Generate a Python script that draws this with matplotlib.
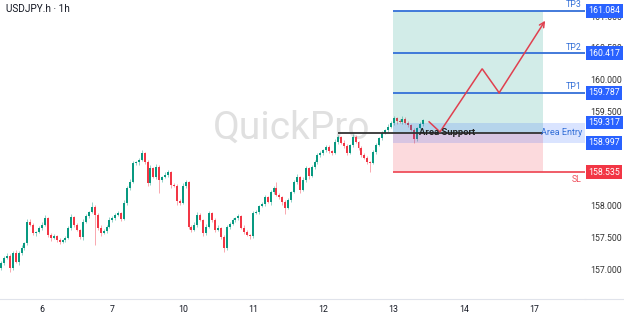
import matplotlib.pyplot as plt
import matplotlib.transforms as mtransforms
from matplotlib.patches import Rectangle
from matplotlib.lines import Line2D

plt.rcParams['font.family'] = ['Roboto', 'DejaVu Sans']

# hourly closes, one per bar (bar 0 = 5th, 10:00)
first_open = 157.02
closes = [
    157.10, 157.18, 157.21, 157.02, 157.26, 157.11, 157.26, 157.33, 157.41, 157.75,
    157.70, 157.57, 157.59, 157.65, 157.70, 157.81, 157.54, 157.49, 157.52, 157.46,
    157.43, 157.46, 157.49, 157.65, 157.82, 157.70, 157.62, 157.51, 157.75, 157.84,
    157.90, 157.98, 157.86, 157.65, 157.57, 157.60, 157.67, 157.78, 157.81, 157.86,
    157.89, 157.79, 158.05, 158.28, 158.38, 158.68, 158.69, 158.73, 158.84, 158.69,
    158.36, 158.60, 158.46, 158.62, 158.41, 158.46, 158.49, 158.54, 158.33, 158.32,
    158.08, 158.05, 158.32, 158.38, 157.67, 157.62, 157.70, 157.86, 157.78, 157.57,
    157.67, 157.89, 157.78, 157.62, 157.65, 157.51, 157.33, 157.67, 157.71, 157.78,
    157.81, 157.84, 157.65, 157.59, 157.54, 157.52, 157.89, 157.90, 158.00, 158.03,
    158.14, 158.06, 158.22, 158.28, 158.17, 158.14, 158.06, 157.97, 158.09, 158.22,
    158.38, 158.46, 158.25, 158.41, 158.60, 158.47, 158.62, 158.69, 158.81, 158.84,
    158.88, 158.93, 158.87, 158.84, 159.01, 159.09, 159.00, 158.95, 158.84, 158.96,
    159.09, 159.01, 158.92, 158.81, 158.76, 158.69, 158.68, 158.85, 158.96, 159.07,
    159.15, 159.20, 159.25, 159.31, 159.39, 159.34, 159.33, 159.38, 159.31, 159.28,
    159.20, 159.06, 159.23, 159.30, 159.36,
]
up_wick = [
    0.03, 0.02, 0.04, 0.03, 0.02, 0.04, 0.03, 0.05, 0.02, 0.05,
    0.04, 0.03, 0.02, 0.03, 0.05, 0.04, 0.02, 0.03, 0.04, 0.02,
    0.03, 0.02, 0.04, 0.03, 0.05, 0.02, 0.03, 0.02, 0.04, 0.03,
    0.02, 0.08, 0.03, 0.02, 0.04, 0.03, 0.02, 0.04, 0.03, 0.02,
    0.03, 0.02, 0.04, 0.03, 0.05, 0.03, 0.02, 0.03, 0.04, 0.02,
    0.03, 0.04, 0.02, 0.05, 0.03, 0.02, 0.04, 0.03, 0.02, 0.03,
    0.02, 0.03, 0.04, 0.03, 0.02, 0.03, 0.04, 0.05, 0.03, 0.02,
    0.04, 0.03, 0.02, 0.03, 0.04, 0.02, 0.03, 0.02, 0.04, 0.03,
    0.02, 0.03, 0.02, 0.04, 0.03, 0.02, 0.03, 0.04, 0.02, 0.03,
    0.04, 0.02, 0.03, 0.04, 0.10, 0.03, 0.02, 0.03, 0.04, 0.02,
    0.03, 0.04, 0.02, 0.05, 0.03, 0.02, 0.03, 0.04, 0.02, 0.03,
    0.02, 0.04, 0.03, 0.02, 0.05, 0.03, 0.02, 0.04, 0.03, 0.02,
    0.04, 0.03, 0.02, 0.03, 0.02, 0.03, 0.02, 0.03, 0.04, 0.02,
    0.03, 0.02, 0.04, 0.03, 0.04, 0.02, 0.03, 0.04, 0.02, 0.03,
    0.02, 0.03, 0.02, 0.03, 0.02,
]
dn_wick = [
    0.03, 0.04, 0.02, 0.06, 0.03, 0.02, 0.04, 0.03, 0.02, 0.03,
    0.02, 0.03, 0.04, 0.02, 0.03, 0.02, 0.03, 0.04, 0.02, 0.03,
    0.04, 0.02, 0.03, 0.02, 0.03, 0.04, 0.02, 0.03, 0.05, 0.02,
    0.03, 0.02, 0.48, 0.03, 0.04, 0.02, 0.03, 0.02, 0.04, 0.03,
    0.02, 0.03, 0.02, 0.04, 0.03, 0.02, 0.03, 0.04, 0.02, 0.03,
    0.04, 0.03, 0.02, 0.04, 0.20, 0.03, 0.02, 0.03, 0.04, 0.02,
    0.06, 0.03, 0.02, 0.03, 0.03, 0.04, 0.02, 0.03, 0.02, 0.04,
    0.03, 0.02, 0.03, 0.04, 0.02, 0.03, 0.06, 0.02, 0.03, 0.02,
    0.03, 0.04, 0.02, 0.03, 0.02, 0.04, 0.03, 0.02, 0.03, 0.02,
    0.03, 0.02, 0.04, 0.03, 0.02, 0.03, 0.04, 0.10, 0.02, 0.03,
    0.02, 0.03, 0.05, 0.02, 0.03, 0.04, 0.02, 0.03, 0.02, 0.04,
    0.03, 0.02, 0.04, 0.03, 0.02, 0.03, 0.02, 0.04, 0.03, 0.02,
    0.03, 0.02, 0.04, 0.03, 0.02, 0.03, 0.14, 0.02, 0.03, 0.02,
    0.03, 0.02, 0.03, 0.02, 0.03, 0.04, 0.02, 0.03, 0.02, 0.03,
    0.02, 0.06, 0.03, 0.02, 0.03,
]

day_bars = [14, 38, 62, 86, 110, 134, 158, 182]
day_labels = ['6', '7', '10', '11', '12', '13', '14', '17']

# trade setup
tp_levels = [161.084, 160.417, 159.787]
tp_names = ['TP3', 'TP2', 'TP1']
entry_top = 159.317
entry_bottom = 158.997
support = 159.16
stop_loss = 158.535
setup_start, setup_end = 133.8, 185.0
support_start = 115.0

# projected path (bar, price)
path_x = [146.1, 149.8, 164.2, 170.0, 185.7]
path_y = [159.33, 159.17, 160.17, 159.79, 160.93]

GREEN = '#089981'
RED = '#f23645'
BLUE = '#2962ff'

opens = [first_open] + closes[:-1]

fig = plt.figure(figsize=(6.24, 3.16), dpi=100)
ax = fig.add_axes([0, 17 / 316, 585 / 624, 299 / 316])
xmax = 199.3
ax.set_xlim(-0.35, xmax)
ax.set_ylim(156.527, 161.258)

# watermark
ax.text(0.499, 0.572, 'QuickPro', transform=ax.transAxes, fontsize=28,
        color='#e0e0e0', ha='center', va='center', zorder=0)

# candles
for i, (o, c) in enumerate(zip(opens, closes)):
    col = GREEN if c >= o else RED
    hi = max(o, c) + up_wick[i]
    lo = min(o, c) - dn_wick[i]
    ax.vlines(i, lo, hi, color=col, lw=0.6, alpha=0.5, zorder=2)
    h = max(abs(c - o), 0.008)
    ax.bar(i, h, bottom=min(o, c), width=0.68, color=col, lw=0, zorder=3)

# position boxes
ax.add_patch(Rectangle((setup_start, support), setup_end - setup_start,
                       tp_levels[0] - support, fc=GREEN, alpha=0.18, lw=0, zorder=4))
ax.add_patch(Rectangle((setup_start, stop_loss), setup_end - setup_start,
                       support - stop_loss, fc=RED, alpha=0.18, lw=0, zorder=4))
ax.add_patch(Rectangle((setup_start, entry_bottom), xmax - setup_start,
                       entry_top - entry_bottom, fc=BLUE, alpha=0.17, lw=0, zorder=4))

for lvl, name in zip(tp_levels, tp_names):
    ax.hlines(lvl, setup_start, xmax, color='#3470d8', lw=1.3, zorder=5)
    ax.text(198.2, lvl + 0.025, name, color='#3470d8', fontsize=6.3,
            ha='right', va='bottom', zorder=6)
ax.hlines(stop_loss, setup_start, xmax, color='#ef4f5c', lw=1.3, zorder=5)
ax.text(198.2, stop_loss - 0.05, 'SL', color='#ef4f5c', fontsize=6.3,
        ha='right', va='top', zorder=6)

ax.hlines(support, support_start, setup_end, color='#333333', lw=1.3, zorder=5)
ax.text(142.7, support, 'Area Support', fontsize=6.8, fontweight='bold',
        color='#222222', ha='left', va='center', zorder=7)
ax.text(198.3, support, 'Area Entry', fontsize=6.5, color='#3470d8',
        ha='right', va='center', zorder=6)

# projected move
ax.plot(path_x[:-1], path_y[:-1], color='#e0404f', lw=1.1, zorder=6,
        solid_joinstyle='miter')
ax.annotate('', xy=(path_x[-1], path_y[-1]), xytext=(path_x[-2], path_y[-2]),
            arrowprops=dict(arrowstyle='->', color='#e0404f', lw=1.1,
                            mutation_scale=9, shrinkA=0, shrinkB=0), zorder=6)

# axes
for s in ['top', 'right', 'left']:
    ax.spines[s].set_visible(False)
ax.spines['bottom'].set_color('#e0e3eb')
ax.spines['bottom'].set_linewidth(0.8)
fig.add_artist(Line2D([585 / 624, 1], [17 / 316, 17 / 316], color='#e0e3eb', lw=0.8))

ax.set_xticks(day_bars)
ax.set_xticklabels(day_labels)
ax.tick_params(axis='x', length=0, pad=4, labelsize=6.3, labelcolor='#131722')

ax.yaxis.tick_right()
ax.set_yticks([157.0, 157.5, 158.0, 159.5, 160.0, 160.5, 161.0])
ax.set_yticklabels(['157.000', '157.500', '158.000', '159.500',
                    '160.000', '160.500', '161.000'])
ax.tick_params(axis='y', length=0, pad=4, labelsize=6.3, labelcolor='#333333')

trans = mtransforms.blended_transform_factory(ax.transAxes, ax.transData)
box_levels = tp_levels + [entry_top, entry_bottom, stop_loss]
box_colors = [BLUE, BLUE, BLUE, BLUE, BLUE, RED]
for lvl, col in zip(box_levels, box_colors):
    ax.text(1.006, lvl, f'{lvl:.3f}', transform=trans, fontsize=6.3,
            color='white', ha='left', va='center', clip_on=False, zorder=10,
            bbox=dict(boxstyle='square,pad=0.25', fc=col, ec='none'))

fig.text(6 / 624, 1 - 9 / 316, 'USDJPY.h · 1h', fontsize=7.2,
         color='#131722', ha='left', va='center')

fig.savefig('out.png', dpi=100, facecolor='white')
